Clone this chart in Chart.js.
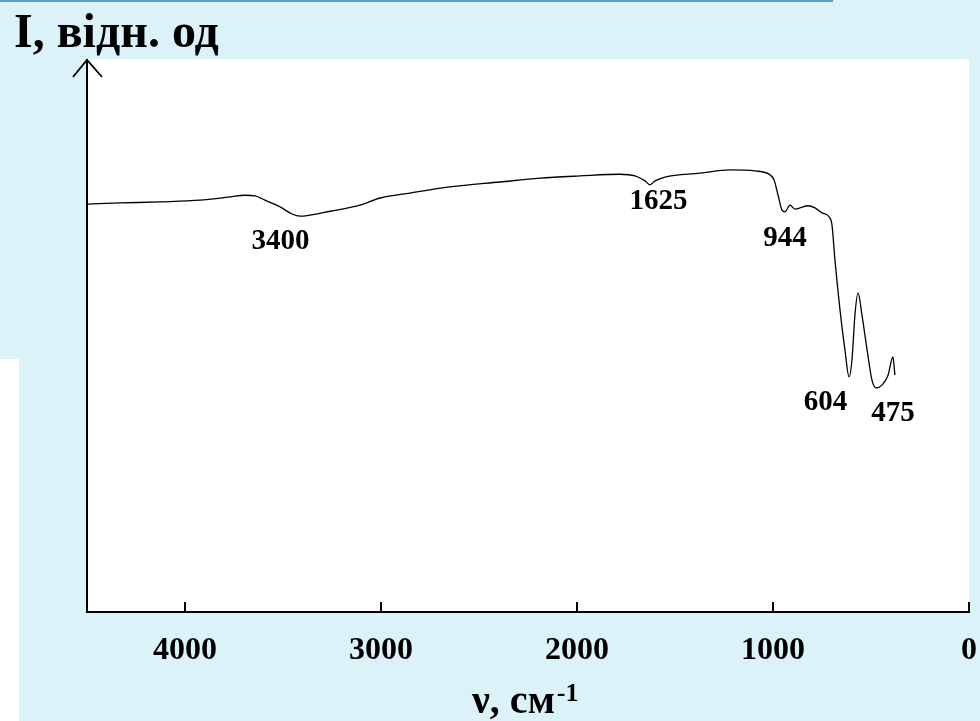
<!DOCTYPE html>
<html>
<head>
<meta charset="utf-8">
<style>
  html, body { margin: 0; padding: 0; background: #dbf3f8; }
  #wrap { width: 980px; height: 721px; }
</style>
<script src="https://cdn.jsdelivr.net/npm/chart.js@4.4.1/dist/chart.umd.min.js"></script>
</head>
<body>
<div id="wrap"><canvas id="ir"></canvas></div>
<script>
// IR spectrum: wavenumber (cm-1) against relative intensity
const wavenumbers = [4495, 4332, 4128, 3923, 3770, 3694, 3643, 3592, 3515, 3454, 3413, 3362, 3260, 3107, 3005,
  2852, 2648, 2393, 2189, 1985, 1781, 1704, 1653, 1628, 1602, 1551, 1372, 1219, 1092, 1015, 995, 974, 954, 939,
  913, 888, 862, 821, 786, 750, 714, 699, 684, 658, 633, 612, 597, 582, 566, 546, 520, 495, 474, 444, 413, 388, 378];
const intensity = [73.9, 74.1, 74.3, 74.6, 75.2, 75.5, 75.4, 74.6, 73.4, 72.1, 71.7, 71.9, 72.6, 73.7, 75.0,
  75.9, 77.0, 77.9, 78.6, 79.0, 79.3, 79.0, 78.1, 77.4, 78.1, 78.8, 79.5, 80.1, 79.9, 79.2, 78.3, 75.5, 72.8, 72.5,
  73.7, 73.0, 73.2, 73.6, 73.2, 72.3, 71.6, 70.1, 63.8, 54.7, 47.5, 42.6, 45.7, 53.8, 57.8, 53.8, 47.5, 42.0, 40.6, 41.1, 42.9, 46.2, 42.9];
const xTicks = [0, 1000, 2000, 3000, 4000];
const bandLabels = [3400, 1625, 944, 604, 475];

// label placement around each band: horizontal shift (px) and label centre height (axis units)
const bandLabelPlace = [
  { dx: -22, y: 67.2 },
  { dx: 8, y: 74.3 },
  { dx: 1, y: 67.6 },
  { dx: -25, y: 38.0 },
  { dx: 17, y: 35.9 }
];

const SERIF = '"Liberation Serif", "Times New Roman", serif';

const decor = {
  id: 'decor',
  beforeDraw(chart) {
    const { ctx, chartArea: a } = chart;
    ctx.save();
    ctx.fillStyle = '#dbf3f8';
    ctx.fillRect(0, 0, chart.width, chart.height);
    ctx.fillStyle = '#ffffff';
    ctx.fillRect(a.left, a.top - 1, a.right - a.left, a.bottom - a.top + 1);
    ctx.fillRect(0, 359, 19, chart.height - 359);
    ctx.fillStyle = '#5b9bd5';
    ctx.fillRect(0, 0, 833, 2);
    ctx.restore();
  },
  afterDraw(chart) {
    const { ctx, chartArea: a } = chart;
    const xs = chart.scales.x, ys = chart.scales.y;
    ctx.save();
    ctx.strokeStyle = '#000';
    ctx.lineWidth = 2;
    // inward tick marks
    xTicks.forEach(v => {
      const px = Math.round(xs.getPixelForValue(v));
      ctx.beginPath();
      ctx.moveTo(px, a.bottom);
      ctx.lineTo(px, a.bottom - 10);
      ctx.stroke();
    });
    // arrow head on the intensity axis
    ctx.lineWidth = 1.8;
    ctx.beginPath();
    ctx.moveTo(a.left - 14, a.top + 17);
    ctx.lineTo(a.left, a.top);
    ctx.lineTo(a.left + 15, a.top + 17);
    ctx.stroke();

    ctx.fillStyle = '#000';
    // band labels
    ctx.font = 'bold 29px ' + SERIF;
    ctx.textAlign = 'center';
    ctx.textBaseline = 'middle';
    bandLabels.forEach((v, i) => {
      const p = bandLabelPlace[i];
      ctx.fillText(String(v), xs.getPixelForValue(v) + p.dx, ys.getPixelForValue(p.y));
    });

    // axis titles
    ctx.textAlign = 'left';
    ctx.textBaseline = 'alphabetic';
    ctx.font = 'bold 48px ' + SERIF;
    ctx.fillText('I, відн. од', 14, 47);

    ctx.font = 'bold 40px ' + SERIF;
    const main = 'ν, см';
    ctx.fillText(main, 472, 713);
    const w = ctx.measureText(main).width;
    ctx.font = 'bold 26px ' + SERIF;
    ctx.fillText('-1', 472 + w + 2, 701);
    ctx.restore();
  }
};

new Chart(document.getElementById('ir'), {
  type: 'line',
  data: {
    datasets: [{
      data: wavenumbers.map((w, i) => ({ x: w, y: intensity[i] })),
      borderColor: '#000',
      borderWidth: 1.3,
      pointRadius: 0,
      fill: false,
      cubicInterpolationMode: 'monotone'
    }]
  },
  options: {
    responsive: true,
    maintainAspectRatio: false,
    animation: false,
    layout: { padding: { top: 60, right: 11, left: 0, bottom: 0 } },
    plugins: { legend: { display: false }, tooltip: { enabled: false } },
    scales: {
      x: {
        type: 'linear',
        min: 0,
        max: 4500,
        reverse: true,
        afterBuildTicks(scale) { scale.ticks = xTicks.map(v => ({ value: v })); },
        afterFit(scale) {
          scale.height = 109;
          scale.paddingLeft = 0;
          scale.paddingRight = 0;
        },
        grid: { display: false, drawTicks: false },
        border: { display: true, color: '#000', width: 2 },
        ticks: {
          color: '#000',
          padding: 20,
          maxRotation: 0,
          autoSkip: false,
          font: { family: SERIF, size: 32, weight: 'bold' },
          callback: v => String(v)
        }
      },
      y: {
        min: 0,
        max: 100,
        afterFit(scale) { scale.width = 87; },
        grid: { display: false, drawTicks: false },
        border: { display: true, color: '#000', width: 2 },
        ticks: { display: false }
      }
    }
  },
  plugins: [decor]
});
</script>
</body>
</html>
